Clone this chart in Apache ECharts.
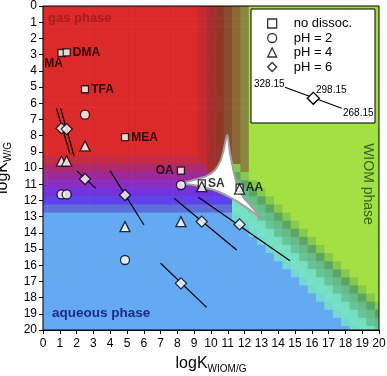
<!DOCTYPE html>
<html>
<head>
<meta charset="utf-8">
<script src="https://cdn.jsdelivr.net/npm/echarts@6/dist/echarts.min.js"></script>
<style>
  html, body { margin: 0; padding: 0; background: #fff; }
  #chart { width: 387px; height: 376px; }
</style>
</head>
<body>
<div id="chart"></div>
<script>
// compounds and their logK_WIOM/G
const compounds = ['MA', 'DMA', 'TFA', 'MEA', 'OA', 'SA', 'AA'];
const logKwiom = [1.1, 1.41, 2.5, 4.88, 8.21, 9.45, 11.7];
// logK_W/G per compound (null = not shown)
const noDissoc = [2.9, 2.86, 5.14, 8.1, 10.16, 10.95, 11.21];
const pH2 = [11.63, 11.63, 6.71, 15.68, 11.05, null, null];
const pH4 = [9.57, 9.57, 8.64, 13.62, 13.31, 11.15, 11.3];
const pH6 = [7.55, 7.6, 10.68, 11.67, 17.12, 13.31, 13.48];
// temperature lines for pH 6 : ends at 328.15 K and 268.15 K
const t328 = [[0.8, 6.32], [1.05, 6.32], [2.0, 10.16], [3.99, 10.16], [7.0, 15.88], [7.8, 11.87], [9.25, 11.81]];
const t268 = [[1.61, 9.14], [1.85, 9.26], [3.14, 11.26], [6.01, 13.52], [9.74, 18.6], [11.53, 15.06], [14.7, 15.72]];

// phase map, 0.5 log unit cells
const gasColor = '#dc2a2a', aqColor = '#64a9f2', wiomColor = '#a3e043';
const gasAqRows = [9.5, 10, 10.5, 11, 11.5, 12, 12.5];
const gasAqColors = ['#c42c44', '#ae2a6e', '#9a2a9a', '#8a2ec0', '#7232dc', '#6042ec', '#5e6ed8'];
const gasWiomCols = [9.5, 10, 10.5, 11, 11.5, 12];
const gasWiomColors = ['#c42a30', '#a82e2e', '#8e3828', '#884c30', '#8a6838', '#8a8840'];
const aqWiomOffsets = [-1.5, -1, -0.5, 0, 0.5, 1, 1.5];
const aqWiomColors = [['#64a9f2', '#74d8d0'], ['#78e0c6', '#84ead0'], ['#6ed6b4', '#78dfbe'], ['#64c49a', '#6ecfa6'],
                      ['#5cb27a', '#66bc86'], ['#58a862', '#62b26c'], ['#62ac5a', '#88c84e']];
// three-phase zone (white)
const mixedZone = [[8.26, 10.94], [8.95, 10.74], [9.74, 10.49], [10.24, 10.12], [10.54, 9.61], [10.73, 8.99],
  [10.97, 7.96], [11.13, 9.09], [11.33, 10.12], [11.53, 10.95], [11.83, 11.67], [12.32, 12.28], [13.0, 13.1],
  [12.32, 12.59], [11.73, 12.18], [11.13, 11.81], [10.34, 11.42], [9.35, 11.15], [8.95, 11.05]];

const cells = [];
for (let i = 0; i <= 40; i++) {
  for (let j = 0; j <= 40; j++) {
    const x = i * 0.5, y = j * 0.5, d = x - y;
    const k = aqWiomOffsets.indexOf(d), r = gasAqRows.indexOf(y), q = gasWiomCols.indexOf(x);
    let c;
    if (k >= 0 && x >= 11.5 && y >= 10) c = aqWiomColors[k][(i + j) % 2];
    else if (x >= 12.5 && d >= 2) c = wiomColor;
    else if (y >= 13) c = aqColor;
    else if (r >= 0 && (x < y || q < 0)) c = gasAqColors[r];
    else if (q >= 0) c = gasWiomColors[q];
    else c = gasColor;
    cells.push({ value: [x, y], itemStyle: { color: c } });
  }
}

const font = 'Liberation Sans, Arial, sans-serif';
const mk = (vals) => vals.map((v, i) => v == null ? null : { name: compounds[i], value: [logKwiom[i], v] }).filter(Boolean);
const labelPos = { MA: { position: 'bottom', distance: 1, offset: [-8, 0] }, OA: { position: 'left', distance: 3 } };
const markStyle = { color: '#fff', borderColor: '#000', borderWidth: 1.3 };

const series = [
  {
    type: 'custom', silent: true, clip: true, z: 1,
    data: cells,
    renderItem: function (params, api) {
      const p0 = api.coord([api.value(0) - 0.25, api.value(1) - 0.25]);
      const p1 = api.coord([api.value(0) + 0.25, api.value(1) + 0.25]);
      return {
        type: 'rect',
        shape: { x: Math.min(p0[0], p1[0]), y: Math.min(p0[1], p1[1]), width: Math.abs(p1[0] - p0[0]) + 0.6, height: Math.abs(p1[1] - p0[1]) + 0.6 },
        style: { fill: api.visual('color') }
      };
    }
  },
  {
    type: 'custom', silent: true, clip: true, z: 2,
    data: [0],
    renderItem: function (params, api) {
      return {
        type: 'polygon',
        shape: { points: mixedZone.map(p => api.coord(p)), smooth: 0.3 },
        style: { fill: '#fff', stroke: '#a0a0a0', lineWidth: 2 }
      };
    }
  }
];

compounds.forEach((c, i) => {
  series.push({
    type: 'line', silent: true, z: 3, symbol: 'none',
    data: [t328[i], t268[i]],
    lineStyle: { color: '#000', width: 1.2 }
  });
});

series.push({
  name: 'no dissoc.', type: 'scatter', z: 4, symbol: 'rect', symbolSize: 7,
  itemStyle: markStyle,
  data: mk(noDissoc).map(o => Object.assign(o, { label: labelPos[o.name] || {} })),
  label: { show: true, position: 'right', distance: 2, formatter: '{b}', color: '#000', fontWeight: 'bold', fontSize: 12, fontFamily: font }
});
series.push({ name: 'pH = 2', type: 'scatter', z: 4, symbol: 'circle', symbolSize: 9, itemStyle: markStyle, data: mk(pH2) });
series.push({ name: 'pH = 4', type: 'scatter', z: 4, symbol: 'triangle', symbolSize: 10, itemStyle: markStyle, data: mk(pH4) });
series.push({ name: 'pH = 6', type: 'scatter', z: 5, symbol: 'diamond', symbolSize: 11, itemStyle: markStyle, data: mk(pH6) });

const axisCommon = {
  type: 'value', min: 0, max: 20, interval: 1,
  axisLine: { show: true, onZero: false, lineStyle: { color: '#000', width: 1.2 } },
  axisTick: { show: true, length: 4, lineStyle: { color: '#000' } },
  splitLine: { show: false },
  nameLocation: 'middle',
  nameTextStyle: {
    fontFamily: font, color: '#000',
    rich: { a: { fontSize: 16, lineHeight: 20, fontFamily: font }, b: { fontSize: 10, lineHeight: 10, verticalAlign: 'bottom', fontFamily: font } }
  }
};

const chart = echarts.init(document.getElementById('chart'));
chart.setOption({
  animation: false,
  grid: { left: 43, right: 8, top: 6, bottom: 46, outerBoundsMode: 'none', containLabel: false, show: true, borderColor: '#000', borderWidth: 1, backgroundColor: 'transparent', z: 6 },
  xAxis: Object.assign({}, axisCommon, {
    name: '{a|logK}{b|WIOM/G}', nameGap: 24,
    axisLabel: { fontSize: 12, color: '#000', margin: 8, fontFamily: font }
  }),
  yAxis: Object.assign({}, axisCommon, {
    inverse: true, name: '{a|logK}{b|W/G}', nameGap: 26,
    axisLabel: { fontSize: 12, color: '#000', margin: 6, fontFamily: font }
  }),
  legend: {
    data: [{ name: 'no dissoc.', icon: 'rect' }, { name: 'pH = 2', icon: 'circle' }, { name: 'pH = 4', icon: 'triangle' }, { name: 'pH = 6', icon: 'diamond' }],
    orient: 'vertical', left: 262, top: 12, itemWidth: 9, itemHeight: 9, itemGap: 1.5,
    selectedMode: false, z: 110,
    itemStyle: { color: '#fff', borderColor: '#000', borderWidth: 1.3 },
    textStyle: { fontSize: 13, color: '#000', fontFamily: font, padding: [0, 0, 0, 12] }
  },
  graphic: [
    { type: 'rect', z: 100, shape: { x: 251, y: 9, width: 124, height: 114 }, style: { fill: '#fff', stroke: '#000', lineWidth: 1 } },
    { type: 'line', z: 101, shape: { x1: 285, y1: 87.3, x2: 341.7, y2: 108.3 }, style: { stroke: '#000', lineWidth: 1.2 } },
    { type: 'polygon', z: 102, shape: { points: [[313.3, 92.3], [319.3, 98.3], [313.3, 104.3], [307.3, 98.3]] }, style: { fill: '#fff', stroke: '#000', lineWidth: 1.3 } },
    { type: 'text', z: 102, style: { x: 254, y: 84, text: '328.15', font: '10px ' + font, fill: '#000', verticalAlign: 'middle' } },
    { type: 'text', z: 102, style: { x: 316, y: 90, text: '298.15', font: '10px ' + font, fill: '#000', verticalAlign: 'middle' } },
    { type: 'text', z: 102, style: { x: 343, y: 113, text: '268.15', font: '10px ' + font, fill: '#000', verticalAlign: 'middle' } },
    { type: 'text', z: 102, style: { x: 48, y: 18, text: 'gas phase', font: 'bold 13px ' + font, fill: '#a81c1c', verticalAlign: 'middle' } },
    { type: 'text', z: 102, style: { x: 52, y: 313, text: 'aqueous phase', font: 'bold 13.5px ' + font, fill: '#1c2a88', verticalAlign: 'middle' } },
    { type: 'text', z: 102, x: 368, y: 184, rotation: -Math.PI / 2, style: { x: 0, y: 0, text: 'WIOM phase', font: '14px ' + font, fill: '#35621f', align: 'center', verticalAlign: 'middle' } }
  ],
  series: series
});
</script>
</body>
</html>
